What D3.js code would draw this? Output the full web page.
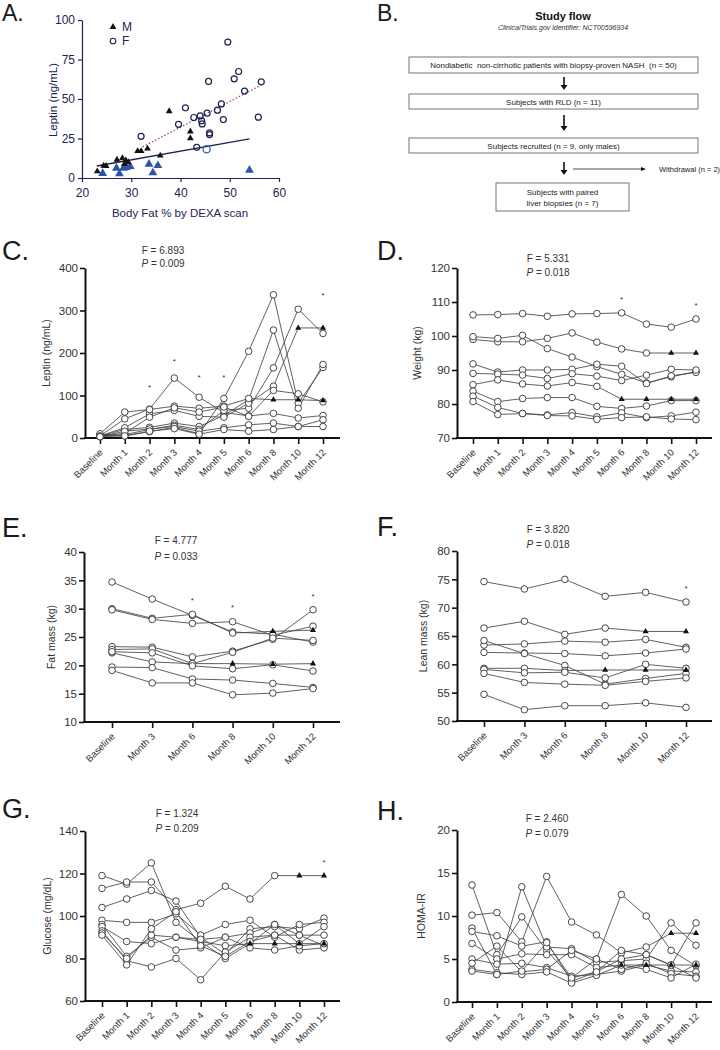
<!DOCTYPE html>
<html><head><meta charset="utf-8">
<script src="https://cdn.jsdelivr.net/npm/d3@7"></script>
<style>
body{margin:0;background:#fff}
svg{display:block}
text{font-family:"Liberation Sans",Arial,sans-serif}
</style>
</head><body>
<svg id="chart" width="720" height="1050"></svg>
<script>
// ---------- Panel A data ----------
const maleBlackX = [23.1,24.4,24.9,27.1,28.2,28.9,28.6,29.4,31.3,32.0,33.3,35.9,37.7,42.0,42.0];
const maleBlackY = [4.2,7.8,7.6,11.6,12.5,11.2,8.8,10.0,17.0,17.0,18.6,14.2,42.3,29.4,25.2];
const maleBlueX = [24.2,27.0,27.6,28.4,29.0,29.8,33.6,34.4,35.4,54.0];
const maleBlueY = [3.2,6.6,3.0,6.6,7.0,7.6,9.1,3.6,8.2,5.3];
const femaleX = [32.0,39.6,41.0,42.7,43.3,44.0,44.3,44.4,45.4,45.7,45.9,45.9,47.5,48.3,48.7,49.6,50.9,51.8,53.0,55.8,56.4];
const femaleY = [26.4,34.0,44.4,38.3,19.4,39.3,36.2,34.2,41.0,61.1,28.5,27.5,42.9,46.9,37.0,86.0,62.8,67.4,55.0,38.5,60.9];
const femaleBlueX = [45.3];
const femaleBlueY = [18.2];
const femaleFit = [[32.3,19.7],[56.4,58.8]];
const maleFit = [[23.0,7.6],[54.0,24.7]];
const aTicksX = [20,30,40,50,60];
const aTicksY = [0,25,50,75,100];

// ---------- Panel B text ----------
const flowBoxes = [
  ["Nondiabetic  non-cirrhotic patients with biopsy-proven NASH  (n = 50)"],
  ["Subjects with RLD (n = 11)"],
  ["Subjects recruited (n = 9, only males)"],
  ["Subjects with paired","liver biopsies (n = 7)"]
];
const withdrawalText = "Withdrawal (n = 2)";

// ---------- Categories ----------
const monthCats = ["Baseline","Month 1","Month 2","Month 3","Month 4","Month 5","Month 6","Month 8","Month 10","Month 12"];
const compCats = ["Baseline","Month 3","Month 6","Month 8","Month 10","Month 12"];

// ---------- Panel C: Leptin ----------
const leptinSeries = [
  [5,45,68,141,96,60,52,58,47,53],
  [8,5,15,25,10,93,204,337,82,166],
  [5,20,25,35,27,53,90,254,70,173],
  [5,8,20,30,20,65,70,165,303,246],
  [5,24,57,65,51,49,82,122,259,259],
  [10,61,67,75,70,75,93,90,90,88],
  [5,11,49,71,61,73,51,112,104,85],
  [3,16,21,27,16,24,31,35,27,43],
  [3,5,16,22,9,20,16,20,27,27]
];
const leptinCarried = [null,null,null,null,8,7,null,null,null];
const leptinTicks = [0,100,200,300,400];
const leptinStars = [["Month 2",122],["Month 3",183],["Month 4",146],["Month 5",146],["Month 12",339]];

// ---------- Panel D: Weight ----------
const weightSeries = [
  [106.2,106.3,106.6,105.8,106.5,106.6,106.8,103.5,102.6,105.0],
  [99.0,98.3,98.3,99.3,100.9,98.2,96.2,95.0,95.0,95.0],
  [99.8,99.3,100.2,96.3,93.8,91.0,88.7,86.2,88.0,89.5],
  [91.8,89.4,90.0,90.0,90.2,91.7,91.1,86.0,88.3,89.3],
  [89.0,88.8,88.5,87.5,88.9,88.2,86.9,88.5,90.2,90.0],
  [85.7,87.1,85.9,85.3,86.3,85.2,81.4,81.4,81.4,81.4],
  [83.8,80.7,81.6,81.9,81.9,79.3,78.7,79.4,81.0,81.0],
  [82.3,79.0,77.2,76.8,77.5,76.2,77.4,76.0,76.5,77.6],
  [80.7,76.9,77.2,76.6,76.5,75.5,76.0,76.2,75.6,75.4]
];
const weightCarried = [null,8,null,null,null,6,null,null,null];
const weightTicks = [70,80,90,100,110,120];
const weightStars = [["Month 6",111.2],["Month 12",109.4]];

// ---------- Panel E: Fat mass ----------
const fatSeries = [
  [34.7,31.7,28.8,25.9,25.5,24.1],
  [30.0,28.3,29.0,25.7,26.0,26.2],
  [29.8,28.1,27.4,27.7,25.3,26.9],
  [23.3,23.2,21.5,22.5,24.6,29.8],
  [22.8,22.9,20.3,22.3,24.8,24.4],
  [22.2,20.6,20.3,20.3,20.2,20.3],
  [22.4,22.2,19.9,19.4,20.1,19.0],
  [19.7,19.6,17.6,17.4,16.8,16.1],
  [19.1,16.9,16.9,14.8,15.1,15.9]
];
const fatCarried = [null,4,null,null,null,3,null,null,null];
const fatTicks = [10,15,20,25,30,35,40];
const fatStars = [["Month 6",31.7],["Month 8",30.5],["Month 12",32.4]];

// ---------- Panel F: Lean mass ----------
const leanSeries = [
  [74.6,73.3,75.0,72.0,72.7,71.0],
  [66.4,67.6,65.3,66.4,65.8,65.8],
  [63.4,63.6,64.1,63.9,64.4,63.0],
  [62.1,62.0,61.9,61.5,62.0,62.7],
  [64.2,61.9,59.8,56.5,57.5,58.4],
  [59.3,59.3,58.9,59.0,59.0,59.0],
  [59.1,58.5,58.6,57.6,60.0,59.3],
  [58.4,56.8,56.5,56.3,57.0,57.6],
  [54.7,52.0,52.7,52.7,53.2,52.4]
];
const leanCarried = [null,4,null,null,null,3,null,null,null];
const leanTicks = [50,55,60,65,70,75,80];
const leanStars = [["Month 12",73.6]];

// ---------- Panel G: Glucose ----------
const glucoseSeries = [
  [119,115,125,97,88,80,87,96,91,86],
  [113,116,116,103,106,114,108,119,119,119],
  [104,108,112,107,90,82,94,95,94,99],
  [98,97,97,101,91,96,98,90,96,97],
  [96,81,90,84,85,90,92,96,87,95],
  [95,88,87,90,88,86,87,87,87,87],
  [93,79,76,80,70,83,90,91,84,85],
  [92,80,91,90,89,90,85,84,86,87],
  [91,77,94,102,86,81,88,91,91,91]
];
const glucoseCarried = [null,8,null,null,null,6,null,null,null];
const glucoseTicks = [60,80,100,120,140];
const glucoseStars = [["Month 12",125.9]];

// ---------- Panel H: HOMA-IR ----------
const homaSeries = [
  [13.6,5.5,9.9,6.0,2.8,5.0,12.5,10.0,6.0,4.2],
  [10.1,10.4,7.0,14.6,9.3,7.8,5.7,6.4,8.0,8.0],
  [8.6,3.2,13.4,6.4,6.2,4.6,4.8,5.0,9.2,6.6],
  [8.2,7.7,6.5,7.0,2.4,3.5,6.0,5.5,4.3,9.2],
  [6.8,5.0,5.6,5.5,5.5,4.0,4.3,4.3,4.3,4.3],
  [5.0,4.4,4.5,4.0,3.0,3.2,3.6,4.3,3.6,3.5],
  [4.5,6.5,3.5,3.8,6.0,5.0,3.8,4.5,3.3,3.0],
  [3.8,3.4,3.2,3.5,2.2,3.1,4.3,3.8,2.8,4.4],
  [3.6,3.2,3.6,6.9,2.8,3.5,5.0,5.5,4.3,2.8]
];
const homaCarried = [null,8,null,null,6,null,null,null,null];
const homaTicks = [0,5,10,15,20];
const homaStars = [];

// =====================================================
const svg = d3.select("#chart");

function panelLabel(txt, x, y, size){
  svg.append("text").attr("x",x).attr("y",y).attr("font-size",size)
    .attr("fill","#1a1a1a").text(txt);
}

// ---------- Panel A ----------
(function(){
  const navy = "#1d2352";
  const g = svg.append("g");
  const x = d3.scaleLinear().domain([20,60]).range([82,279]);
  const y = d3.scaleLinear().domain([0,100]).range([178,20]);
  const ya = g.append("g").attr("transform","translate(82,0)")
    .call(d3.axisLeft(y).tickValues(aTicksY).tickSize(4).tickSizeOuter(0).tickPadding(3));
  const xa = g.append("g").attr("transform","translate(0,178)")
    .call(d3.axisBottom(x).tickValues(aTicksX).tickSize(4).tickSizeOuter(0).tickPadding(6));
  [ya,xa].forEach(a=>{
    a.select(".domain").attr("stroke",navy).attr("stroke-width",1.2);
    a.selectAll(".tick line").attr("stroke",navy).attr("stroke-width",1.2);
    a.selectAll(".tick text").attr("fill",navy).attr("font-size",12)
      .style("font-family","'Liberation Sans',Arial,sans-serif");
  });
  g.append("text").attr("transform","translate(57,100) rotate(-90)")
    .attr("text-anchor","middle").attr("font-size",11.5).attr("fill",navy).text("Leptin (ng/mL)");
  g.append("text").attr("x",180).attr("y",217).attr("text-anchor","middle")
    .attr("font-size",11.5).attr("fill",navy).text("Body Fat % by DEXA scan");

  // fit lines
  g.append("line").attr("x1",x(femaleFit[0][0])).attr("y1",y(femaleFit[0][1]))
    .attr("x2",x(femaleFit[1][0])).attr("y2",y(femaleFit[1][1]))
    .attr("stroke","#b0457a").attr("stroke-width",1.3).attr("stroke-dasharray","1.5,2");
  g.append("line").attr("x1",x(maleFit[0][0])).attr("y1",y(maleFit[0][1]))
    .attr("x2",x(maleFit[1][0])).attr("y2",y(maleFit[1][1]))
    .attr("stroke",navy).attr("stroke-width",1.3);

  const tri = d3.symbol().type(d3.symbolTriangle);
  g.selectAll(".mb").data(maleBlueX).join("path")
    .attr("transform",(d,i)=>`translate(${x(d)},${y(maleBlueY[i])+0.5})`)
    .attr("d",tri.size(34)()).attr("fill","#2f55a8");
  g.selectAll(".mk").data(maleBlackX).join("path")
    .attr("transform",(d,i)=>`translate(${x(d)},${y(maleBlackY[i])})`)
    .attr("d",d3.symbol().type(d3.symbolTriangle).size(20)()).attr("fill","#111");
  g.selectAll(".fc").data(femaleX).join("circle")
    .attr("cx",d=>x(d)).attr("cy",(d,i)=>y(femaleY[i])).attr("r",3)
    .attr("fill","none").attr("stroke",navy).attr("stroke-width",1.2);
  g.selectAll(".fb").data(femaleBlueX).join("circle")
    .attr("cx",d=>x(d)).attr("cy",(d,i)=>y(femaleBlueY[i])).attr("r",3.6)
    .attr("fill","none").attr("stroke","#2f63b8").attr("stroke-width",1.3);

  // legend
  g.append("path").attr("transform","translate(113,27)")
    .attr("d",d3.symbol().type(d3.symbolTriangle).size(20)()).attr("fill","#111");
  g.append("text").attr("x",122).attr("y",31).attr("font-size",12).attr("fill",navy).text("M");
  g.append("circle").attr("cx",113).attr("cy",41).attr("r",2.8)
    .attr("fill","none").attr("stroke",navy).attr("stroke-width",1.1);
  g.append("text").attr("x",122).attr("y",45).attr("font-size",12).attr("fill",navy).text("F");
})();
panelLabel("A.",2,21,23);

// ---------- Panel B ----------
(function(){
  const g = svg.append("g");
  g.append("text").attr("x",563).attr("y",20).attr("text-anchor","middle")
    .attr("font-size",11).attr("font-weight","bold").attr("fill","#111").text("Study flow");
  g.append("text").attr("x",563).attr("y",30).attr("text-anchor","middle")
    .attr("font-size",7).attr("font-style","italic").attr("fill","#333")
    .text("ClinicalTrials.gov identifier: NCT00596934");
  const boxes = [
    {x:409,y:57,w:289,h:16},
    {x:409,y:94,w:289,h:15},
    {x:409,y:138,w:289,h:15},
    {x:496,y:183,w:133,h:28}
  ];
  boxes.forEach((b,i)=>{
    g.append("rect").attr("x",b.x).attr("y",b.y).attr("width",b.w).attr("height",b.h)
      .attr("fill","#fff").attr("stroke","#666").attr("stroke-width",0.9);
    const lines = flowBoxes[i];
    lines.forEach((t,j)=>{
      g.append("text").attr("x",b.x+b.w/2)
        .attr("y",b.y+b.h/2+3 + (j-(lines.length-1)/2)*11)
        .attr("text-anchor","middle").attr("font-size",8).attr("fill","#222")
        .style("white-space","pre").text(t);
    });
  });
  const arrows = [[77,90],[115,131],[162,175]];
  arrows.forEach(a=>{
    g.append("line").attr("x1",564).attr("x2",564).attr("y1",a[0]).attr("y2",a[1]-4)
      .attr("stroke","#111").attr("stroke-width",1.6);
    g.append("path").attr("d",`M560.5,${a[1]-5}L567.5,${a[1]-5}L564,${a[1]}Z`).attr("fill","#111");
  });
  g.append("line").attr("x1",573).attr("x2",642).attr("y1",169).attr("y2",169)
    .attr("stroke","#222").attr("stroke-width",0.8);
  g.append("path").attr("d","M641,167L646,169L641,171Z").attr("fill","#111");
  g.append("text").attr("x",659).attr("y",172).attr("font-size",7.5).attr("fill","#222")
    .text(withdrawalText);
})();
panelLabel("B.",377,21,23);

// ---------- Line panels ----------
function linePanel(o){
  const g = svg.append("g");
  const x = d3.scalePoint().domain(o.cats).range(o.xr);
  const y = d3.scaleLinear().domain([o.yt[0], o.yt[o.yt.length-1]]).range([o.bottom,o.top]);

  const ya = g.append("g").attr("transform",`translate(${o.ax},0)`)
    .call(d3.axisLeft(y).tickValues(o.yt).tickSize(5).tickSizeOuter(0).tickPadding(2));
  ya.select(".domain").attr("stroke","#111").attr("stroke-width",2);
  ya.selectAll(".tick line").attr("stroke","#111").attr("stroke-width",1.6);
  ya.selectAll(".tick text").attr("fill","#333").attr("font-size",11.5)
    .style("font-family","'Liberation Sans',Arial,sans-serif");

  const xa = g.append("g").attr("transform",`translate(0,${o.bottom})`)
    .call(d3.axisBottom(x).tickSize(6).tickSizeOuter(0));
  xa.select(".domain").remove();
  xa.append("line").attr("x1",o.ax-1).attr("x2",o.end).attr("y1",0).attr("y2",0)
    .attr("stroke","#111").attr("stroke-width",2);
  xa.selectAll(".tick line").attr("stroke","#111").attr("stroke-width",1.6);
  xa.selectAll(".tick text").attr("y",0).attr("dy",0).attr("x",0)
    .attr("transform","translate(3,15) rotate(-45)")
    .style("text-anchor","end").attr("fill","#333").attr("font-size",9.5)
    .style("font-family","'Liberation Sans',Arial,sans-serif");

  g.append("text").attr("transform",`translate(${o.ylx},${(o.top+o.bottom)/2}) rotate(-90)`)
    .attr("text-anchor","middle").attr("font-size",10.5).attr("fill","#333").text(o.ylabel);

  g.append("text").attr("x",o.sx).attr("y",o.sy1).attr("text-anchor","middle")
    .attr("font-size",10).attr("fill","#333").text(o.F);
  const pt = g.append("text").attr("x",o.sx).attr("y",o.sy2).attr("text-anchor","middle")
    .attr("font-size",10).attr("fill","#333");
  pt.append("tspan").attr("font-style","italic").text("P");
  pt.append("tspan").text(" = "+o.P);

  const line = d3.line().x((d,i)=>x(o.cats[i])).y(d=>y(d));
  g.selectAll(".ln").data(o.series).join("path")
    .attr("d",d=>line(d)).attr("fill","none").attr("stroke","#444").attr("stroke-width",0.85);

  const pts = [];
  o.series.forEach((s,si)=>s.forEach((v,i)=>{
    const c = o.carried[si];
    pts.push({cat:o.cats[i], v, tri: c!==null && i>=c});
  }));
  g.selectAll(".pc").data(pts.filter(p=>!p.tri)).join("circle")
    .attr("cx",p=>x(p.cat)).attr("cy",p=>y(p.v)).attr("r",3.3)
    .attr("fill","#fff").attr("stroke","#333").attr("stroke-width",0.9);
  g.selectAll(".pt").data(pts.filter(p=>p.tri)).join("path")
    .attr("transform",p=>`translate(${x(p.cat)},${y(p.v)})`)
    .attr("d",d3.symbol().type(d3.symbolTriangle).size(16)()).attr("fill","#111");

  g.selectAll(".st").data(o.stars).join("text")
    .attr("x",d=>x(d[0])).attr("y",d=>y(d[1])+4).attr("text-anchor","middle")
    .attr("font-size",8).attr("fill","#333").text("*");
}

linePanel({cats:monthCats, series:leptinSeries, carried:leptinCarried, yt:leptinTicks,
  stars:leptinStars, ax:85, top:268, bottom:438, xr:[100,323], end:340,
  ylabel:"Leptin (ng/mL)", ylx:50, sx:163, sy1:254, sy2:267, F:"F = 6.893", P:"0.009"});
linePanel({cats:monthCats, series:weightSeries, carried:weightCarried, yt:weightTicks,
  stars:weightStars, ax:457, top:268, bottom:438, xr:[473,696], end:712,
  ylabel:"Weight (kg)", ylx:421, sx:548, sy1:262, sy2:276, F:"F = 5.331", P:"0.018"});
linePanel({cats:compCats, series:fatSeries, carried:fatCarried, yt:fatTicks,
  stars:fatStars, ax:84, top:552, bottom:722, xr:[112,313], end:340,
  ylabel:"Fat mass (kg)", ylx:55, sx:176, sy1:544, sy2:560, F:"F = 4.777", P:"0.033"});
linePanel({cats:compCats, series:leanSeries, carried:leanCarried, yt:leanTicks,
  stars:leanStars, ax:457, top:551, bottom:721, xr:[484,686], end:712,
  ylabel:"Lean mass (kg)", ylx:427, sx:548, sy1:533, sy2:548, F:"F = 3.820", P:"0.018"});
linePanel({cats:monthCats, series:glucoseSeries, carried:glucoseCarried, yt:glucoseTicks,
  stars:glucoseStars, ax:85, top:831, bottom:1001, xr:[102,324], end:340,
  ylabel:"Glucose (mg/dL)", ylx:51, sx:177, sy1:817, sy2:832, F:"F = 1.324", P:"0.209"});
linePanel({cats:monthCats, series:homaSeries, carried:homaCarried, yt:homaTicks,
  stars:homaStars, ax:457, top:830, bottom:1002, xr:[472,696], end:712,
  ylabel:"HOMA-IR", ylx:425, sx:547, sy1:822, sy2:837, F:"F = 2.460", P:"0.079"});

panelLabel("C.",2,260,27);
panelLabel("D.",377,260,27);
panelLabel("E.",2,537,27);
panelLabel("F.",377,536,27);
panelLabel("G.",2,818,27);
panelLabel("H.",377,820,27);
</script>
</body></html>
